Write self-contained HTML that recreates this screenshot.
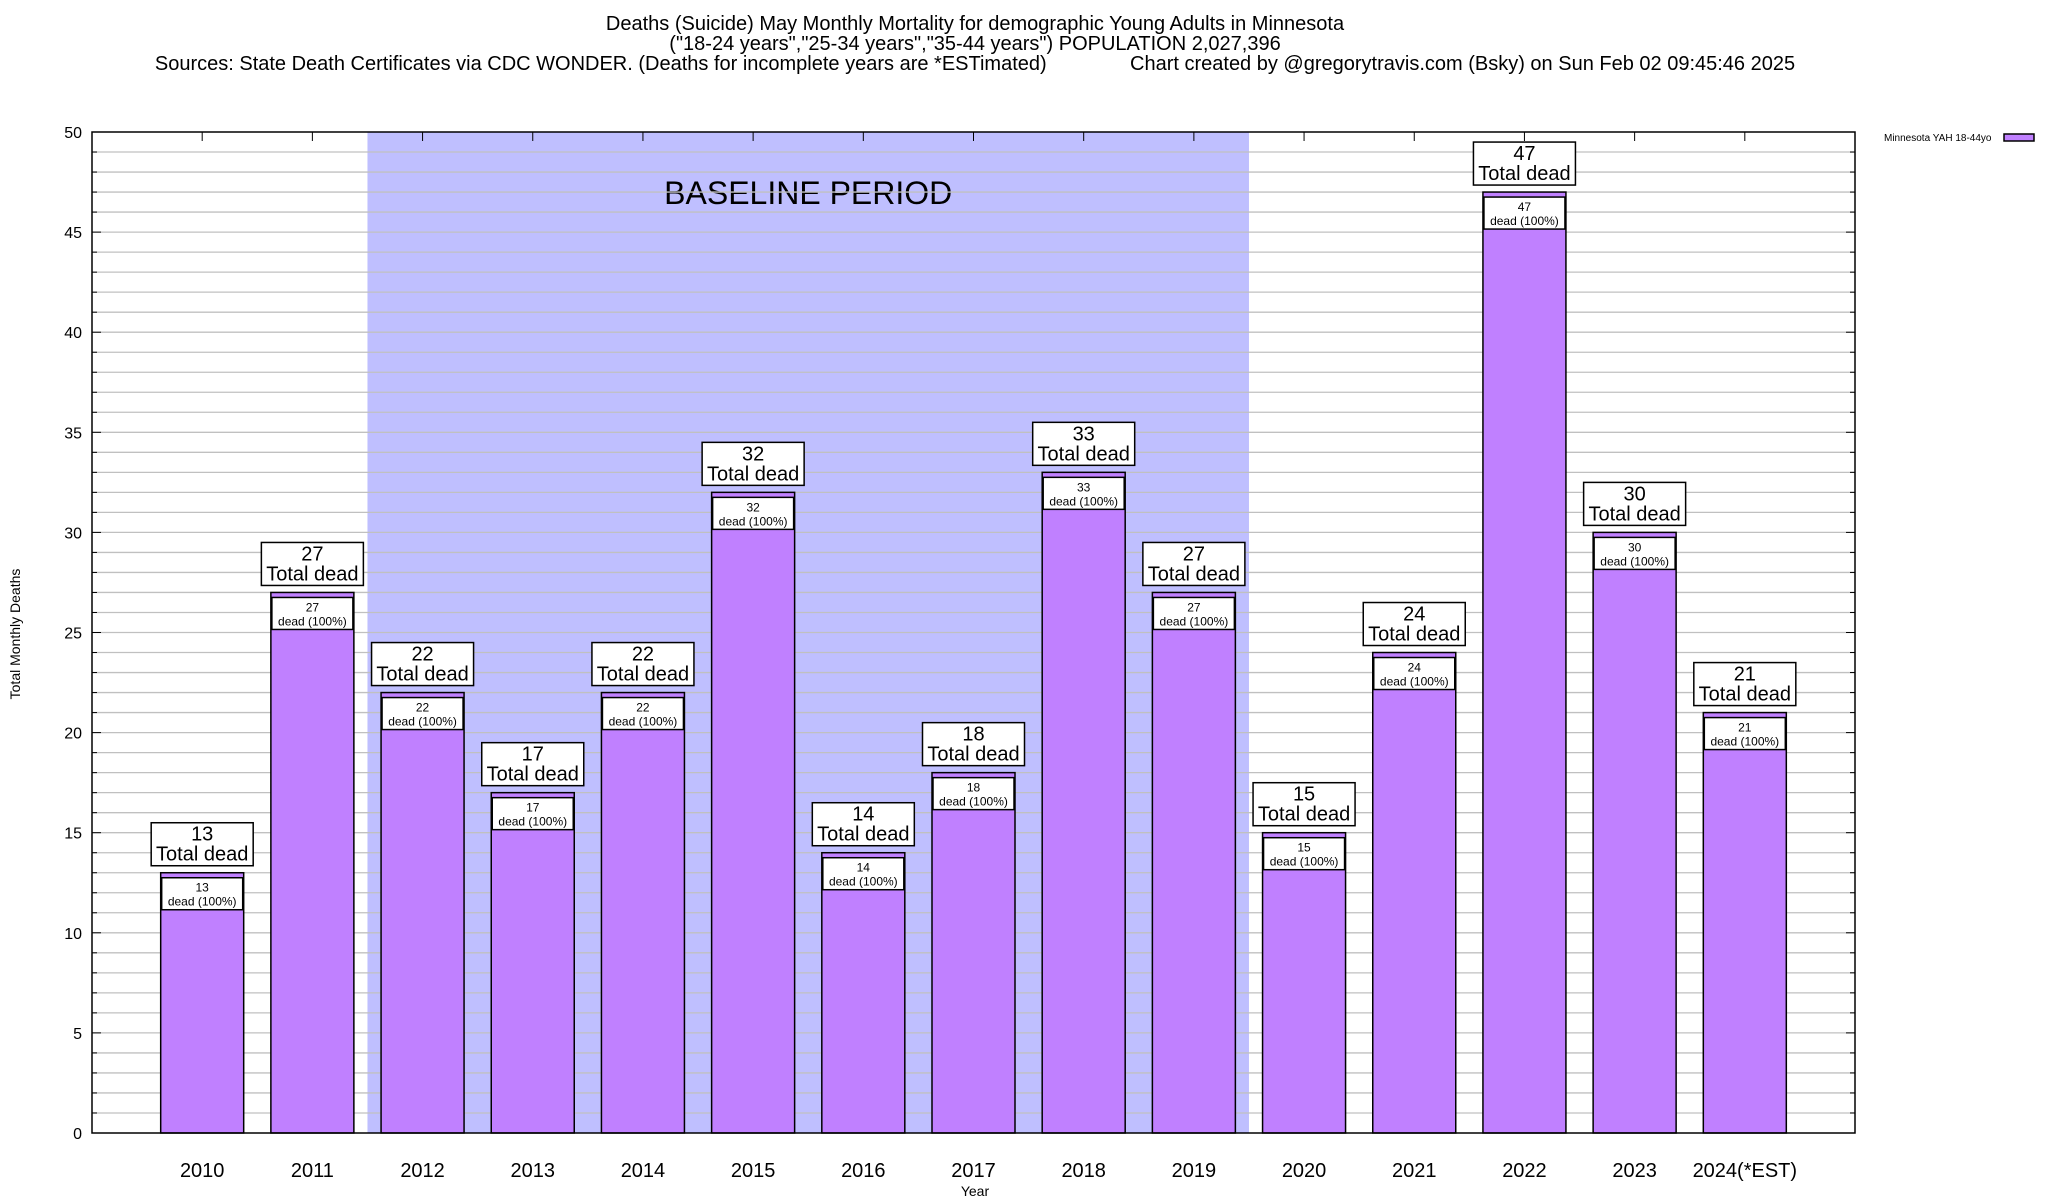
<!DOCTYPE html>
<html><head><meta charset="utf-8">
<style>
html,body{margin:0;padding:0;background:#fff;}
svg{display:block;font-family:"Liberation Sans",Arial,sans-serif;}
</style></head>
<body>
<svg id="chart" width="2048" height="1200" viewBox="0 0 2048 1200" xmlns="http://www.w3.org/2000/svg">
<g font-size="20" text-anchor="middle" fill="#000">
<text x="975" y="30">Deaths (Suicide) May Monthly Mortality for demographic Young Adults in Minnesota</text>
<text x="975" y="50">("18-24 years","25-34 years","35-44 years") POPULATION 2,027,396</text>
<text x="975" y="70" xml:space="preserve">Sources: State Death Certificates via CDC WONDER. (Deaths for incomplete years are *ESTimated)               Chart created by @gregorytravis.com (Bsky) on Sun Feb 02 09:45:46 2025</text>
</g>
<g id="plot"></g>
<text x="20" y="634" font-size="14" text-anchor="middle" transform="rotate(-90 20 634)">Total Monthly Deaths</text>
<text x="975" y="1196" font-size="14" text-anchor="middle">Year</text>
<g>
<text x="1884" y="141" font-size="10">Minnesota YAH 18-44yo</text>
<rect x="2004" y="134" width="30" height="7" fill="#c080ff" stroke="#000" stroke-width="1.5"/>
</g>
</svg>
<script>
const categories = ["2010","2011","2012","2013","2014","2015","2016","2017","2018","2019","2020","2021","2022","2023","2024(*EST)"];
const deaths = [13,27,22,17,22,32,14,18,33,27,15,24,47,30,21];
const yTicks = [0,5,10,15,20,25,30,35,40,45,50];
const baselineStart = 1.5;
const baselineEnd = 9.5;

const L=92,R=1855,T=132,B=1133;
const xMin=-1,xMax=15,yMax=50;
const NS="http://www.w3.org/2000/svg";
function xs(i){return L+(i-xMin)/(xMax-xMin)*(R-L);}
function ys(v){return B-v/yMax*(B-T);}
const plot=document.getElementById('plot');
function mk(tag,attrs,parent){const e=document.createElementNS(NS,tag);for(const k in attrs)e.setAttribute(k,attrs[k]);(parent||plot).appendChild(e);return e;}

const sh=mk('rect',{x:xs(baselineStart),y:T,width:xs(baselineEnd)-xs(baselineStart),height:B-T,fill:'#bfbfff'});


const sht=mk('text',{x:(xs(baselineStart)+xs(baselineEnd))/2,y:204,'font-size':32,'text-anchor':'middle'});
sht.textContent='BASELINE PERIOD';



for(let v=1;v<yMax;v++){
  const g=mk('line',{x1:L,x2:R,y1:ys(v),y2:ys(v),stroke:'#c0c0c0','stroke-width':1.3});
  
  
  mk('line',{x1:L,x2:L+(v%5==0?9:5),y1:ys(v),y2:ys(v),stroke:'#000'});
  mk('line',{x1:R,x2:R-(v%5==0?9:5),y1:ys(v),y2:ys(v),stroke:'#000'});
}
yTicks.forEach(v=>{
  const t=mk('text',{x:L-10,y:ys(v)+6,'font-size':16,'text-anchor':'end'});
  t.textContent=v;
  
  
});

const bw=83;
categories.forEach((c,i)=>{
  const cx=xs(i),v=deaths[i];
  const b=mk('rect',{x:cx-bw/2,y:ys(v),width:bw,height:B-ys(v),fill:'#c080ff',stroke:'#000','stroke-width':1.5});
  
  
  const ib=mk('rect',{x:cx-bw/2+1,y:ys(v)+5,width:bw-2,height:32,fill:'#fff',stroke:'#000','stroke-width':1.5});
  
  
  const t1=mk('text',{x:cx,y:ys(v)+19,'font-size':12,'text-anchor':'middle'});t1.textContent=v;
  
  
  const t2=mk('text',{x:cx,y:ys(v)+33,'font-size':12,'text-anchor':'middle'});t2.textContent='dead (100%)';
  
  
  const ob=mk('rect',{x:cx-51,y:ys(v)-50,width:102,height:43,fill:'#fff',stroke:'#000','stroke-width':1.5});
  
  
  const t3=mk('text',{x:cx,y:ys(v)-32,'font-size':20,'text-anchor':'middle'});t3.textContent=v;
  
  
  const t4=mk('text',{x:cx,y:ys(v)-12,'font-size':20,'text-anchor':'middle'});t4.textContent='Total dead';
  
  
  const xl=mk('text',{x:cx,y:1177,'font-size':20,'text-anchor':'middle'});xl.textContent=c;
  
  
  mk('line',{x1:cx,x2:cx,y1:T,y2:T+9,stroke:'#000'});
});

const fr=mk('rect',{x:L,y:T,width:R-L,height:B-T,fill:'none',stroke:'#000','stroke-width':1.5});


</script>
</body></html>
